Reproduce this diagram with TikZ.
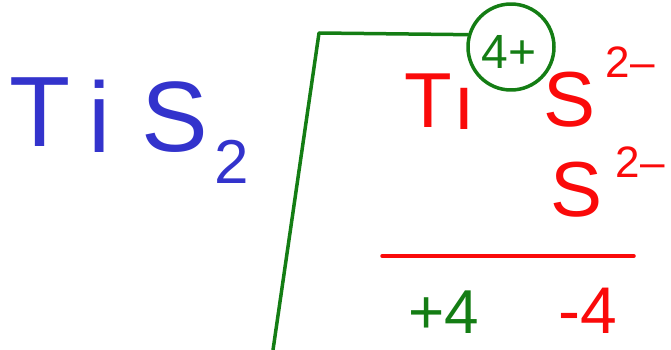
\documentclass[tikz,border=0pt]{standalone}
\usepackage{fontspec}
\setmainfont{Liberation Sans}
\definecolor{penblue}{RGB}{51,51,204}
\definecolor{penred}{RGB}{250,10,10}
\definecolor{pengreen}{RGB}{20,125,20}
\begin{document}
\begin{tikzpicture}[x=1pt,y=-1pt,
  bluetxt/.style={text=penblue,inner sep=0pt,font=\fontsize{100}{100}\selectfont},
  redtxt/.style={text=penred,inner sep=0pt,font=\fontsize{78}{78}\selectfont},
  redsup/.style={text=penred,inner sep=0pt,font=\fontsize{44}{44}\selectfont},
  greentxt/.style={text=pengreen,inner sep=0pt,font=\fontsize{62}{62}\selectfont},
  greenline/.style={draw=pengreen,line width=3.5pt,line cap=round,line join=round},
  redline/.style={draw=penred,line width=3.5pt,line cap=round}]
\useasboundingbox (0,0) rectangle (671,350);
% blue formula
\node[bluetxt] (T1) at (40,112) {T};
\node[bluetxt] (i1) at (100,116) {i};
\node[bluetxt] (S1) at (175,117) {S};
\node[text=penblue,inner sep=0pt,font=\fontsize{62}{62}\selectfont] (two) at (232,162) {2};
% green bracket and circle
\node[greenline,circle,minimum size=86pt,inner sep=0pt] (circ) at (511,47) {};
\node[text=pengreen,inner sep=0pt,font=\fontsize{48}{48}\selectfont] (fourplus) at (509,52) {4+};
\coordinate (bot) at (273,350);
\coordinate (top) at (319,33);
\draw[greenline] (bot) -- (top) -- (circ.164);
% red ions
\node[redtxt] (Ti2) at (440,102) {T\kern2pt\raisebox{-2pt}{ı}};
\node[redtxt] (S2) at (570,100) {S};
\node[redsup] (sup2) at (630,62) {2–};
\node[redtxt] (S3) at (577,190) {S};
\node[redsup] (sup3) at (640,162) {2–};
% red line
\coordinate (la) at (382,256);
\coordinate (lb) at (634,256);
\draw[redline] (la) -- (lb);
% charges
\node[greentxt] (p4) at (444,312) {+4};
\node[text=penred,inner sep=0pt,font=\fontsize{66}{66}\selectfont] (m4) at (588,311) {-4};
\end{tikzpicture}
\end{document}
